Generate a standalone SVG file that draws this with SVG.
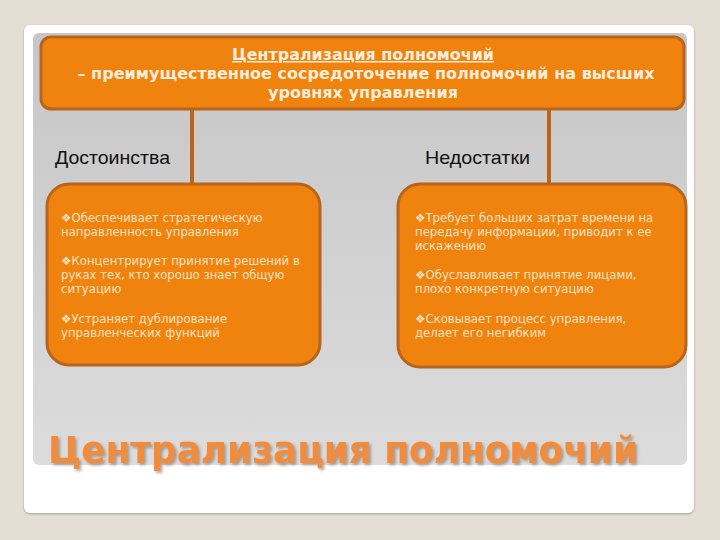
<svg xmlns="http://www.w3.org/2000/svg" width="720" height="540" viewBox="0 0 720 540">
<defs>
<linearGradient id="panel" x1="0" y1="0" x2="0" y2="1">
<stop offset="0" stop-color="#c6c6c6"/>
<stop offset="1" stop-color="#dcdcdc"/>
</linearGradient>
<filter id="sh" x="-5%" y="-5%" width="110%" height="110%">
<feDropShadow dx="0" dy="1" stdDeviation="1.2" flood-color="#8a8478" flood-opacity="0.7"/>
</filter>
<filter id="tsh" x="-5%" y="-20%" width="110%" height="140%">
<feDropShadow dx="2" dy="2" stdDeviation="1.5" flood-color="#7a6a5a" flood-opacity="0.6"/>
</filter>
</defs>
<style>
.box{fill:#f0820e;stroke:#b8641c;stroke-width:3}
.conn{stroke:#b8641c;stroke-width:4;fill:none}
.head{font-family:"DejaVu Sans",sans-serif;font-weight:bold;font-size:15px;fill:#fbeedd;text-anchor:middle}
.lbl{font-family:"Liberation Sans",sans-serif;font-size:19px;fill:#111}
.item{font-family:"DejaVu Sans",sans-serif;font-size:11.7px;fill:#f8e2c4}
.title{font-family:"DejaVu Sans",sans-serif;font-weight:bold;font-size:37px;fill:#f28c3e}
</style>
<rect width="720" height="540" fill="#e4ded5"/>
<rect x="24" y="25" width="670" height="488" rx="6" fill="#ffffff" filter="url(#sh)"/>
<rect x="33" y="33" width="654" height="432" rx="6" fill="url(#panel)"/>
<g id="connectors">
<line class="conn" x1="192" y1="108" x2="192" y2="186"/>
<line class="conn" x1="549" y1="108" x2="549" y2="186"/>
</g>
<g id="top">
<rect class="box" x="41" y="37" width="643" height="72" rx="10"/>
<text class="head" x="363" y="60" text-decoration="underline" textLength="262" lengthAdjust="spacingAndGlyphs">Централизация полномочий</text>
<text class="head" x="366" y="79" textLength="577" lengthAdjust="spacingAndGlyphs">– преимущественное сосредоточение полномочий на высших</text>
<text class="head" x="363" y="98" textLength="190" lengthAdjust="spacingAndGlyphs">уровнях управления</text>
</g>
<g id="label-left"><text class="lbl" x="55" y="164" textLength="115" lengthAdjust="spacingAndGlyphs">Достоинства</text></g>
<g id="label-right"><text class="lbl" x="425" y="164" textLength="105" lengthAdjust="spacingAndGlyphs">Недостатки</text></g>
<g id="left">
<rect class="box" x="47" y="184" width="273" height="181" rx="22"/>
<text class="item" x="61" y="222">❖Обеспечивает стратегическую</text>
<text class="item" x="61" y="236">направленность управления</text>
<text class="item" x="61" y="265">❖Концентрирует принятие решений в</text>
<text class="item" x="61" y="279">руках тех, кто хорошо знает общую</text>
<text class="item" x="61" y="293">ситуацию</text>
<text class="item" x="61" y="323">❖Устраняет дублирование</text>
<text class="item" x="61" y="337">управленческих функций</text>
</g>
<g id="right">
<rect class="box" x="398" y="184" width="288" height="183" rx="22"/>
<text class="item" x="415" y="222">❖Требует больших затрат времени на</text>
<text class="item" x="415" y="236">передачу информации, приводит к ее</text>
<text class="item" x="415" y="250">искажению</text>
<text class="item" x="415" y="279">❖Обуславливает принятие лицами,</text>
<text class="item" x="415" y="293">плохо конкретную ситуацию</text>
<text class="item" x="415" y="323">❖Сковывает процесс управления,</text>
<text class="item" x="415" y="337">делает его негибким</text>
</g>
<text class="title" x="48" y="463" textLength="590" lengthAdjust="spacingAndGlyphs" filter="url(#tsh)">Централизация полномочий</text>
</svg>
